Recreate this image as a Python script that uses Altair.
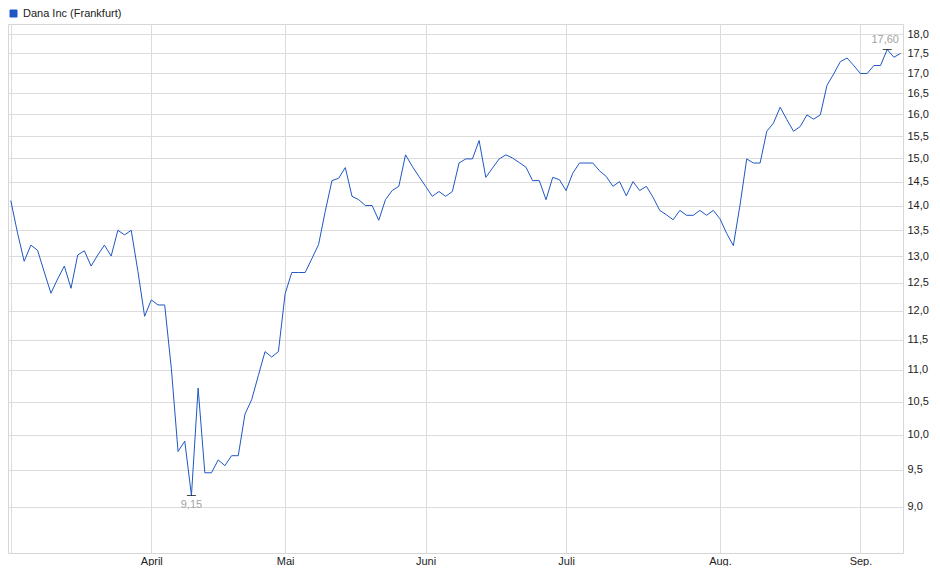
import altair as alt
import pandas as pd

# ---- data ----
series_name = "Dana Inc (Frankfurt)"

holidays = ["2025-04-18", "2025-04-21", "2025-05-01"]
trading_days = [d for d in pd.bdate_range("2025-03-03", "2025-09-09") if d.strftime("%Y-%m-%d") not in holidays]

prices = [
    14.10, 13.45, 12.90, 13.21, 13.11, 12.70, 12.31, 12.57, 12.81, 12.40,
    13.02, 13.10, 12.81, 13.02, 13.21, 13.00, 13.50, 13.41, 13.50, 12.71,
    11.90, 12.19, 12.10, 12.10, 11.02, 9.76, 9.91, 9.15, 10.71, 9.46,
    9.46, 9.64, 9.56, 9.70, 9.70, 10.31, 10.53, 10.91, 11.30, 11.21,
    11.30, 12.30, 12.69, 12.69, 12.69, 12.95, 13.22, 13.88, 14.52, 14.57,
    14.80, 14.19, 14.12, 14.00, 14.00, 13.70, 14.12, 14.31, 14.40, 15.08,
    14.83, 14.61, 14.40, 14.19, 14.29, 14.19, 14.29, 14.90, 14.99, 14.99,
    15.40, 14.59, 14.79, 14.99, 15.08, 15.01, 14.91, 14.81, 14.52, 14.52,
    14.12, 14.59, 14.54, 14.31, 14.68, 14.90, 14.90, 14.90, 14.73, 14.61,
    14.40, 14.50, 14.20, 14.50, 14.31, 14.40, 14.17, 13.90, 13.81, 13.71,
    13.90, 13.80, 13.80, 13.90, 13.80, 13.90, 13.73, 13.44, 13.20, 14.01,
    14.99, 14.90, 14.90, 15.61, 15.80, 16.17, 15.88, 15.61, 15.72, 15.99,
    15.89, 15.99, 16.70, 16.98, 17.29, 17.38, 17.19, 16.99, 16.99, 17.19,
    17.19, 17.60, 17.40, 17.50,
]

month_labels = ["", "April", "Mai", "Juni", "Juli", "Aug.", "Sep."]
y_ticks = [9.0, 9.5, 10.0, 10.5, 11.0, 11.5, 12.0, 12.5, 13.0, 13.5,
           14.0, 14.5, 15.0, 15.5, 16.0, 16.5, 17.0, 17.5, 18.0]

# ---- table ----
df = pd.DataFrame({
    "idx": list(range(len(prices))),
    "date": [d.strftime("%Y-%m-%d") for d in trading_days[:len(prices)]],
    "price": prices,
    "series": series_name,
})

# first trading day of each month -> month gridlines
months = pd.to_datetime(df["date"]).dt.month
month_idx = [int(i) for i in df.index[months != months.shift(1)]]

label_expr = "''"
for i, lab in zip(reversed(month_idx), reversed(month_labels)):
    label_expr = f"datum.value == {i} ? '{lab}' : ({label_expr})"

line_color = "#1f57c3"
font = "Liberation Sans"

x_enc = alt.X("idx:Q",
              scale=alt.Scale(domain=[-0.42, 133.36], nice=False, zero=False),
              axis=alt.Axis(values=month_idx, labelExpr=label_expr, title=None,
                            grid=True, ticks=False, domain=False, labelPadding=2,
                            labelFontSize=11, labelColor="#222", labelFont=font))
y_enc = alt.Y("price:Q",
              scale=alt.Scale(type="log", domain=[8.41, 18.27], nice=False, zero=False),
              axis=alt.Axis(orient="right", values=y_ticks, title=None,
                            labelExpr="replace(format(datum.value, '.1f'), '.', ',')",
                            grid=True, ticks=False, domain=False, labelPadding=4,
                            labelFontSize=11, labelColor="#222", labelFont=font))

base = alt.Chart(df)

line = base.mark_line(strokeWidth=1, interpolate="linear").encode(
    x=x_enc,
    y=y_enc,
    color=alt.Color("series:N",
                    scale=alt.Scale(domain=[series_name], range=[line_color]),
                    legend=alt.Legend(orient="none", legendX=0, legendY=-16, title=None,
                                      symbolType="square", symbolSize=49,
                                      symbolFillColor=line_color,
                                      symbolStrokeColor="#0a2a6e",
                                      symbolStrokeWidth=1, labelFontSize=11,
                                      labelFont=font, labelColor="#222",
                                      labelOffset=4, padding=0)),
)

extremes = base.transform_joinaggregate(
    pmin="min(price)", pmax="max(price)"
).transform_filter(
    "datum.price == datum.pmin || datum.price == datum.pmax"
).transform_calculate(
    label="replace(format(datum.price, '.2f'), '.', ',')",
    ismax="datum.price == datum.pmax",
)

ticks = extremes.mark_tick(orient="horizontal", size=9, thickness=1, color="black").encode(
    x="idx:Q", y="price:Q"
)

min_text = extremes.transform_filter("!datum.ismax").mark_text(
    dy=10, fontSize=11, font=font, color="#a3a3a3", align="center", baseline="middle"
).encode(x="idx:Q", y="price:Q", text="label:N")

max_text = extremes.transform_filter("datum.ismax").mark_text(
    dy=-9, dx=-2, fontSize=11, font=font, color="#a3a3a3", align="center", baseline="middle"
).encode(x="idx:Q", y="price:Q", text="label:N")

chart = alt.layer(line, ticks, min_text, max_text).properties(
    width=895, height=529, padding=0
).configure_view(
    stroke="#d6d6d6", strokeWidth=1
).configure_axis(
    gridColor="#dcdcdc", gridWidth=1
)

chart.save("out.html", embed_options={"renderer": "svg", "actions": False})
